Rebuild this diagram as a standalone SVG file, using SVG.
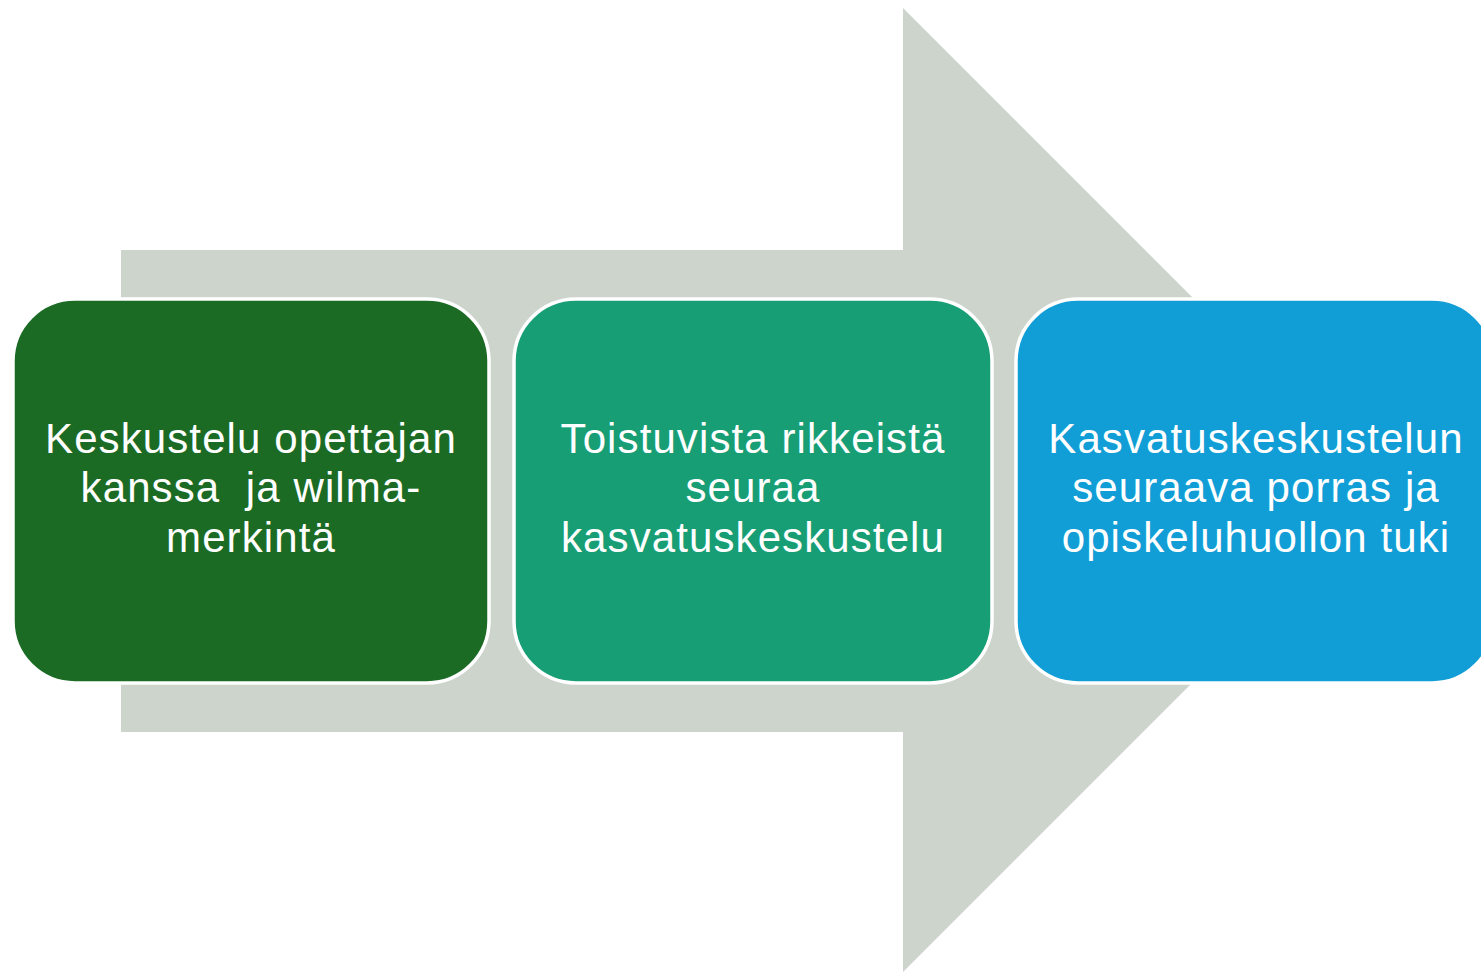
<svg xmlns="http://www.w3.org/2000/svg" width="1481" height="973" viewBox="0 0 1481 973">
<style>
.box{stroke:#ffffff;stroke-width:3.5}
.t{font-family:"Liberation Sans","Noto Sans",sans-serif;font-size:42px;letter-spacing:1.1px;fill:#ffffff;text-anchor:middle}
</style>
<rect width="1481" height="973" fill="#ffffff"/>
<g id="connectors">
<polygon points="121,250 903,250 903,8 1385,490 903,972 903,732 121,732" fill="#ccd4cc"/>
</g>
<g id="node1">
<rect class="box" x="13" y="299" width="476" height="384" rx="62" fill="#1b6b25"/>
<text class="t" x="251" y="453">Keskustelu opettajan</text>
<text class="t" x="251" y="502" xml:space="preserve">kanssa  ja wilma-</text>
<text class="t" x="251" y="552">merkintä</text>
</g>
<g id="node2">
<rect class="box" x="514" y="299" width="478" height="384" rx="62" fill="#189e75"/>
<text class="t" x="753" y="453">Toistuvista rikkeistä</text>
<text class="t" x="753" y="502">seuraa</text>
<text class="t" x="753" y="552">kasvatuskeskustelu</text>
</g>
<g id="node3">
<rect class="box" x="1016" y="299" width="478" height="384" rx="62" fill="#119ed6"/>
<text class="t" x="1256" y="453">Kasvatuskeskustelun</text>
<text class="t" x="1256" y="502">seuraava porras ja</text>
<text class="t" x="1256" y="552">opiskeluhuollon tuki</text>
</g>
</svg>
